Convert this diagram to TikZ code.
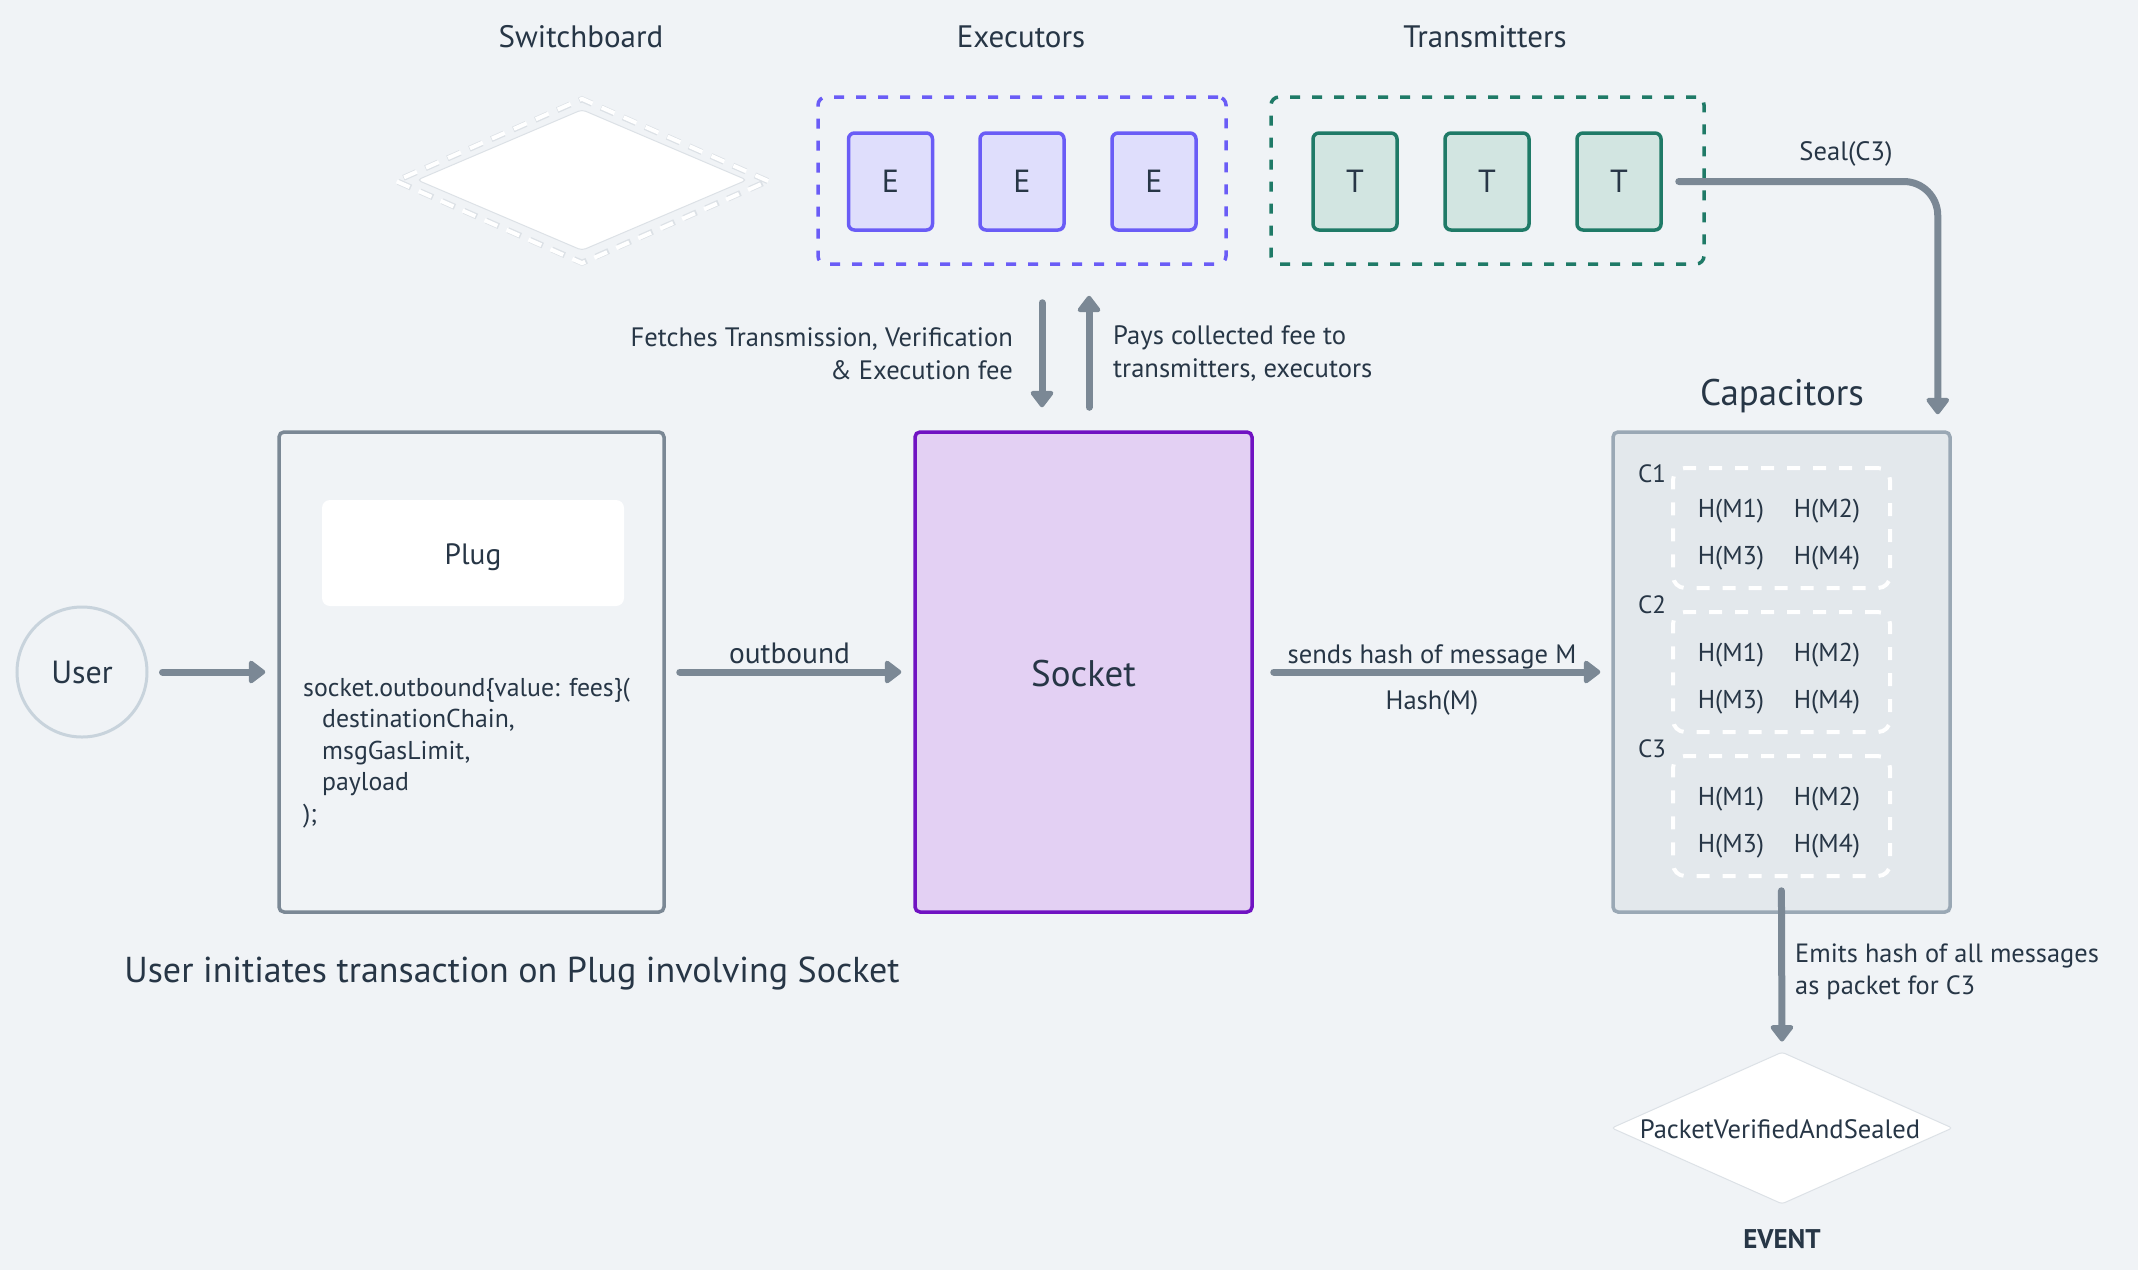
\documentclass[tikz,border=0pt]{standalone}
\usepackage{fontspec}
\setmainfont{PT Sans}
\usetikzlibrary{arrows.meta,shapes.geometric,calc}
\definecolor{bg}{HTML}{F0F3F6}
\definecolor{txt}{HTML}{273646}
\definecolor{arrc}{HTML}{7B8895}
\definecolor{exec}{HTML}{6A5CF6}
\definecolor{execfill}{HTML}{DFDEFC}
\definecolor{trans}{HTML}{1F7A67}
\definecolor{transfill}{HTML}{D2E5E1}
\definecolor{sockfill}{HTML}{E3D0F3}
\definecolor{sockline}{HTML}{7012C2}
\definecolor{capfill}{HTML}{E3E8EC}
\definecolor{capline}{HTML}{9AA8B5}
\definecolor{plugline}{HTML}{7B8895}
\definecolor{userline}{HTML}{C8D3DC}
\definecolor{faint}{HTML}{DCE1E6}
\newcommand\fs[1]{\fontsize{#1pt}{#1pt}\selectfont}
\begin{document}
\begin{tikzpicture}[x=1pt,y=-1pt,
  every node/.style={text=txt, inner sep=0pt},
  sect/.style={font=\fs{31}},
  lbl/.style={font=\fs{26.6}},
  arr/.style={draw=arrc, line width=7pt, line cap=round, -{Triangle[width=26pt,length=18pt,round]}},
  ebox/.style={draw=exec, fill=execfill, line width=3.5pt, rounded corners=6pt, minimum width=84pt, minimum height=97pt, font=\fs{32}},
  tbox/.style={draw=trans, fill=transfill, line width=3.5pt, rounded corners=6pt, minimum width=84pt, minimum height=97pt, font=\fs{32}},
  grp/.style={line width=3.5pt, dash pattern=on 10pt off 12pt, rounded corners=8pt},
  hbox/.style={draw=white, line width=4pt, dash pattern=on 13pt off 13pt, rounded corners=12pt, minimum width=217pt, minimum height=120pt},
  hl/.style={font=\fs{25.8}},
  cl/.style={font=\fs{25}},
  bigbox/.style={line width=3.5pt, rounded corners=5pt, minimum width=#1, minimum height=480pt},
]
\useasboundingbox[fill=bg] (0,0) rectangle (2138,1270);

% section titles
\node[sect] (swl) at (581,37) {Switchboard};
\node[sect] (exl) at (1021,37) {Executors};
\node[sect] (trl) at (1485,37) {Transmitters};

% switchboard
\node[diamond, minimum width=374pt, minimum height=166pt, draw=faint, line width=6pt, dash pattern=on 14pt off 10pt] (swoa) at (582,181) {};
\node[diamond, minimum width=374pt, minimum height=166pt, draw=white, line width=4pt, dash pattern=on 14pt off 10pt] (swo) at (582,181) {};
\node[diamond, minimum width=330pt, minimum height=141pt, draw=faint, fill=white, line width=1pt, rounded corners=4pt] (sw) at (582,180) {};

% executors
\node[grp, draw=exec, minimum width=408pt, minimum height=167pt] (ex) at (1022,180.5) {};
\node[ebox] (e1) at (890.5,181.5) {E};
\node[ebox] (e2) at (1022,181.5) {E};
\node[ebox] (e3) at (1154,181.5) {E};

% transmitters
\node[grp, draw=trans, minimum width=433pt, minimum height=167pt] (tr) at (1487.5,180.5) {};
\node[tbox] (t1) at (1355,181.5) {T};
\node[tbox] (t2) at (1487,181.5) {T};
\node[tbox] (t3) at (1619,181.5) {T};

% user
\node[circle, draw=userline, line width=3pt, minimum size=130pt, font=\fs{32}] (user) at (82,672) {User};

% plug
\node[bigbox=385pt, draw=plugline] (plugbox) at (471.5,672) {};
\node[fill=white, rounded corners=8pt, minimum width=302pt, minimum height=106pt] (plug) at (473,553) {};
\node[font=\fs{29.4}] (plugt) at (473,557) {Plug};
\node[anchor=west, align=left, font=\fontsize{25.8pt}{31.5pt}\selectfont] (code) at (303,753) {socket.outbound\{value: fees\}(\\\hspace*{19pt}destinationChain,\\\hspace*{19pt}msgGasLimit,\\\hspace*{19pt}payload\\);};

\node[font=\fs{36}] (cap1) at (512,973) {User initiates transaction on Plug involving Socket};

% socket
\node[bigbox=337pt, draw=sockline, fill=sockfill, font=\fs{37}] (sock) at (1083.5,672) {};
\node[font=\fs{37}] (sockt) at (1083.5,674) {Socket};

% capacitors
\node[font=\fs{37}] (capl) at (1782,396) {Capacitors};
\node[bigbox=337pt, draw=capline, fill=capfill] (cap) at (1781.5,672) {};
\node[hbox] (hb1) at (1781.5,528) {};
\node[hbox] (hb2) at (1781.5,672) {};
\node[hbox] (hb3) at (1781.5,816) {};
\node[cl] (c1) at (1652,474) {C1};
\node[cl] (c2) at (1652,605) {C2};
\node[cl] (c3) at (1652,749) {C3};
\foreach \b/\yy in {1/528,2/672,3/816}{
  \node[hl] (h\b a) at (1731,\yy-17) {H(M1)};
  \node[hl] (h\b b) at (1827,\yy-17) {H(M2)};
  \node[hl] (h\b c) at (1731,\yy+30) {H(M3)};
  \node[hl] (h\b d) at (1827,\yy+30) {H(M4)};
}

% event
\node[diamond, minimum width=341pt, minimum height=152pt, aspect=2.24, draw=faint, fill=white, line width=1pt, rounded corners=3pt] (ev) at (1782,1128) {};
\node[font=\fs{26.6}] (evt) at (1780,1129) {PacketVerifiedAndSealed};
\node[font=\bfseries\fs{27}] (evl) at (1782,1239) {EVENT};

% connectors
\draw[arr, shorten <=14pt, shorten >=12pt] (user) -- (plugbox);
\draw[arr, shorten <=14pt, shorten >=12pt] (plugbox) -- node[above=5pt, font=\fs{29.4}] (outl) {outbound} (sock);
\draw[arr, shorten <=20pt, shorten >=11pt] (sock) -- (cap);
\node[lbl] (sendl) at (1432,657) {sends hash of message M};
\node[lbl] (hashl) at (1432,703) {Hash(M)};

\coordinate (fx) at (1042,0);
\coordinate (px) at (1089,0);
\draw[arr, shorten <=37pt, shorten >=23pt] (ex.south -| fx) -- (sock.north -| fx);
\draw[arr, shorten <=23pt, shorten >=30pt] (sock.north -| px) -- (ex.south -| px);
\node[anchor=east, align=right, font=\fontsize{26.6pt}{33pt}\selectfont] (fetl) at (1013,354) {Fetches Transmission, Verification\\\& Execution fee};
\node[anchor=west, align=left, font=\fontsize{26.6pt}{33pt}\selectfont] (payl) at (1113,354) {Pays collected fee to\\transmitters, executors};

\draw[arr, rounded corners=34pt, shorten <=16pt, shorten >=16pt] (t3.east) -| ([xshift=-14pt]cap.north east);
\node[lbl] (seal) at (1846,154) {Seal(C3)};

\draw[arr, shorten <=-23pt, shorten >=10pt] (cap.south) -- (ev.north);
\node[anchor=west, align=left, font=\fontsize{26.4pt}{32pt}\selectfont] (emit) at (1795,972) {Emits hash of all messages\\as packet for C3};
\end{tikzpicture}
\end{document}
